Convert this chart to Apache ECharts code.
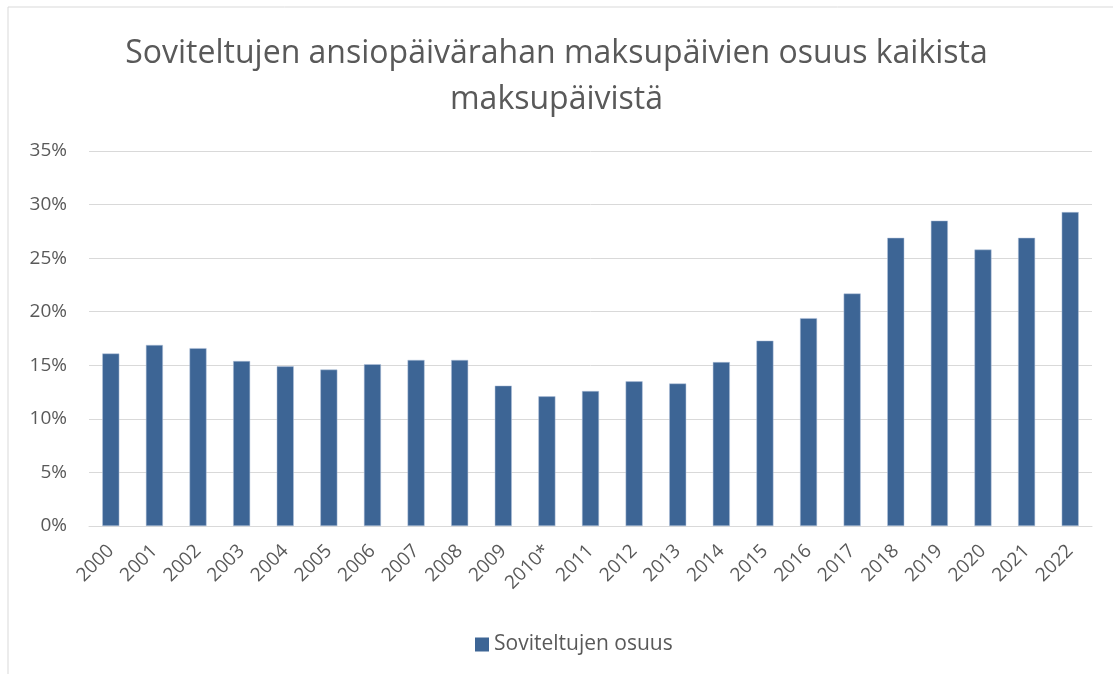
<!DOCTYPE html>
<html>
<head>
<meta charset="utf-8">
<script src="https://cdn.jsdelivr.net/npm/echarts@6/dist/echarts.min.js"></script>
<style>
html,body{margin:0;padding:0;background:#fff;}
#chart{width:1113px;height:674px;}
</style>
</head>
<body>
<div id="chart"></div>
<script>
// vuodet ja osuudet (%)
var years = ['2000','2001','2002','2003','2004','2005','2006','2007','2008','2009','2010*','2011',
	'2012','2013','2014','2015','2016','2017','2018','2019','2020','2021','2022'];
var shares = [16.1, 16.9, 16.6, 15.4, 14.9, 14.6, 15.1, 15.5, 15.5, 13.1, 12.1, 12.6,
	13.5, 13.3, 15.3, 17.3, 19.4, 21.7, 26.9, 28.5, 25.8, 26.9, 29.3];
var yTicks = [0, 5, 10, 15, 20, 25, 30, 35];

var chart = echarts.init(document.getElementById('chart'));
var font = '"Open Sans", sans-serif';

var option = {
	animation: false,
	graphic: [{
		type: 'rect',
		shape: {x: 8, y: 7, width: 1120, height: 700},
		style: {fill: 'none', stroke: '#d9d9d9', lineWidth: 1}
	}],
	title: {
		text: 'Soviteltujen ansiopäivärahan maksupäivien osuus kaikista\nmaksupäivistä',
		left: 'center',
		top: 26,
		textStyle: {
			fontFamily: font,
			fontSize: 32,
			fontWeight: 'normal',
			color: '#595959',
			lineHeight: 46
		}
	},
	grid: {left: 89, right: 21, top: 151, bottom: 148},
	xAxis: {
		type: 'category',
		data: years,
		axisTick: {show: false},
		axisLine: {lineStyle: {color: '#d9d9d9', width: 1}},
		axisLabel: {
			rotate: 45,
			interval: 0,
			fontFamily: font,
			fontSize: 19,
			color: '#595959',
			margin: 22
		}
	},
	yAxis: {
		type: 'value',
		min: yTicks[0],
		max: yTicks[yTicks.length - 1],
		interval: 5,
		axisLine: {show: false},
		axisTick: {show: false},
		splitLine: {lineStyle: {color: '#d9d9d9', width: 1}},
		axisLabel: {
			formatter: '{value}%',
			fontFamily: font,
			fontSize: 19,
			color: '#595959',
			margin: 22
		}
	},
	legend: {
		bottom: 14,
		left: 470,
		icon: 'rect',
		itemWidth: 14,
		itemHeight: 14,
		itemGap: 6,
		itemStyle: {borderWidth: 0},
		textStyle: {fontFamily: font, fontSize: 21, color: '#595959'}
	},
	series: [{
		name: 'Soviteltujen osuus',
		type: 'bar',
		data: shares,
		barWidth: '39%',
		itemStyle: {color: '#3d6595', borderColor: '#b4c5dc', borderWidth: 0.5}
	}]
};

chart.setOption(option);
</script>
</body>
</html>
